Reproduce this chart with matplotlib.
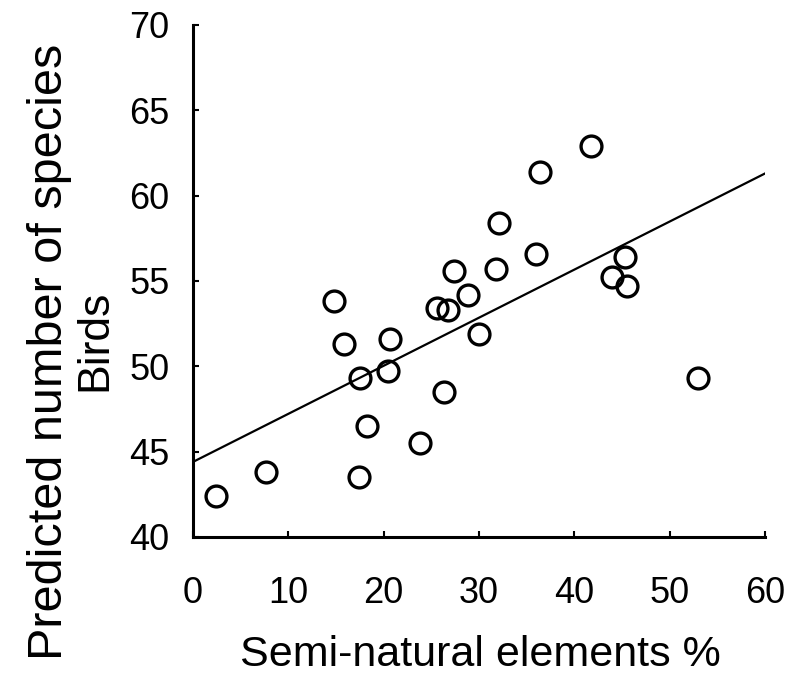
import matplotlib
matplotlib.use("Agg")
import matplotlib.pyplot as plt
import numpy as np

# semi-natural elements (%) and predicted number of bird species
semi_natural = [2.4, 7.7, 17.4, 23.8, 18.2, 26.3, 17.5, 20.5, 15.8, 20.7,
                14.8, 25.6, 26.7, 27.4, 28.8, 30.0, 31.8, 32.1, 36.0, 36.4,
                41.7, 43.9, 45.3, 45.5, 53.0]
species = [42.4, 43.8, 43.5, 45.5, 46.5, 48.5, 49.3, 49.7, 51.3, 51.6,
           53.8, 53.4, 53.3, 55.6, 54.2, 51.9, 55.7, 58.4, 56.6, 61.4,
           62.9, 55.25, 56.4, 54.7, 49.3]

# fitted line end points
fit_x = [0, 60]
fit_y = [44.4, 61.3]

x_ticks = [0, 10, 20, 30, 40, 50, 60]
y_ticks = [40, 45, 50, 55, 60, 65, 70]

plt.rcParams["font.family"] = ["Liberation Sans", "DejaVu Sans"]

W, H = 787, 688
fig = plt.figure(figsize=(W / 100, H / 100), dpi=100)
ax = fig.add_axes([193 / W, 1 - 537 / H, (765 - 193) / W, (537 - 25) / H])

ax.plot(fit_x, fit_y, color="black", linewidth=1.6)
ax.plot(semi_natural, species, linestyle="none", marker="o", markersize=15,
        markerfacecolor="none", markeredgecolor="black", markeredgewidth=2.4,
        clip_on=False)

ax.set_xlim(0, 60)
ax.set_ylim(40, 70)
ax.set_xticks(x_ticks)
ax.set_yticks(y_ticks)

for side in ["top", "right"]:
    ax.spines[side].set_visible(False)
for side in ["left", "bottom"]:
    ax.spines[side].set_linewidth(2.2)

ax.tick_params(direction="in", length=4, width=1.5, labelsize=26)
ax.tick_params(axis="y", pad=17)
ax.tick_params(axis="x", pad=28)

# axis titles placed in pixel positions
fig.text(480 / W, 1 - 655 / H, "Semi-natural elements %", fontsize=31,
         ha="center", va="center")
fig.text(50 / W, 1 - 352 / H, "Predicted number of species", fontsize=35,
         rotation=90, ha="center", va="center")
fig.text(95 / W, 1 - 340 / H, "Birds", fontsize=32,
         rotation=90, ha="center", va="center")

fig.savefig("out.png", dpi=100)
